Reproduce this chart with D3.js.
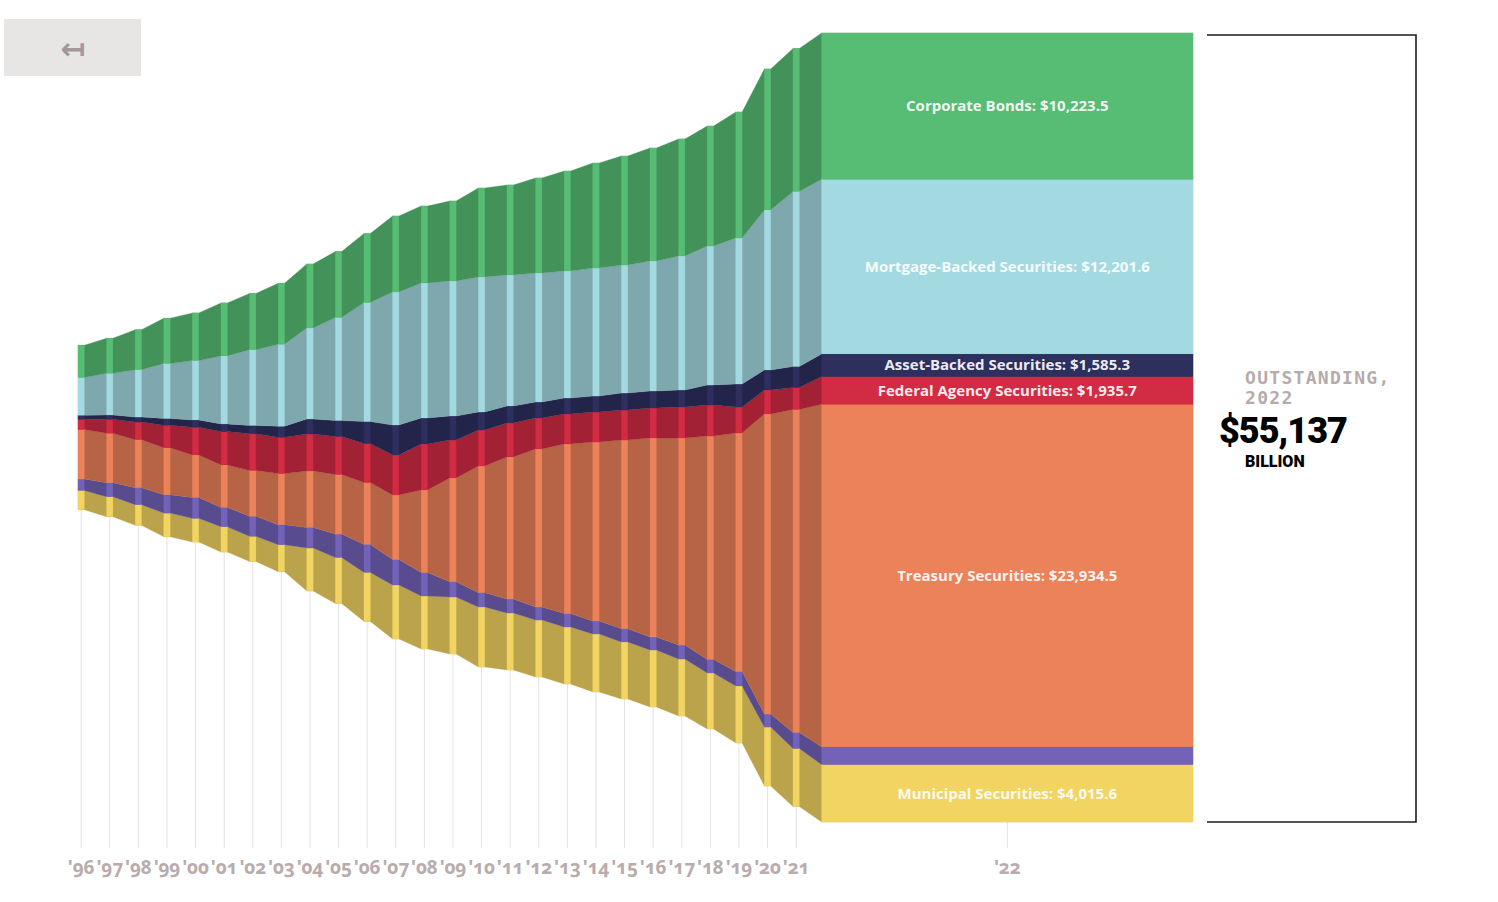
<!DOCTYPE html>
<html>
<head>
<meta charset="utf-8">
<script src="https://cdn.jsdelivr.net/npm/d3@7/dist/d3.min.js"></script>
<style>
  html, body { margin: 0; padding: 0; background: #ffffff; }
  svg { display: block; }
</style>
</head>
<body>
<svg id="chart" width="1498" height="902"></svg>
<script>
// ---------------- DATA (billions of USD) ----------------
const years = [1996,1997,1998,1999,2000,2001,2002,2003,2004,2005,2006,2007,2008,2009,2010,2011,2012,2013,2014,2015,2016,2017,2018,2019,2020,2021,2022];
const yearLabels = ["'96","'97","'98","'99","'00","'01","'02","'03","'04","'05","'06","'07","'08","'09","'10","'11","'12","'13","'14","'15","'16","'17","'18","'19","'20","'21","'22"];

const corporate = [2257,2446,2795,3166,3333,3704,3934,4263,4472,4612,4822,5311,5381,5590,6219,6289,6639,6988,7338,7617,7897,8176,8386,8805,9853,9993,10223.5];
const mortgageBacked = [2634,2914,3312,3843,4144,4752,5290,5730,6359,7198,8316,9294,9434,9434,9434,9154,9015,8875,8945,8945,9085,9364,9713,10203,11181,12229,12201.6];
const assetBacked = [280,300,349,468,510,538,580,769,1048,1118,1537,2096,1817,1677,1258,1188,1118,1118,1118,1188,1188,1188,1398,1607,1398,1467,1585.3];
const federalAgency = [720,978,1230,1586,1936,2327,2565,2537,2586,2655,2725,2795,3215,2655,2516,2376,2166,2096,2096,2096,2096,2166,2166,1817,1677,1537,1935.7];
const treasury = [3459.7,3456.8,3355.5,3281.0,2966.9,2967.5,3204.9,3574.9,3943.6,4165.9,4322.9,4516.7,5774.2,7249.8,8853.0,9928.4,11046.1,11854.4,12504.8,13191.6,13908.2,14468.8,15608.0,16673.3,20973.8,22574.8,23934.5];
const moneyMarkets = [797,978,1188,1279,1467,1356,1398,1400,1440,1635,1957,1775,1635,1070,1000,978,908,936,908,922,908,978,950,1006,908,1118,1240.8];
const municipal = [1349,1398,1447,1656,1656,1768,1768,1887,3005,3215,3424,3774,3704,3983,4193,3983,3983,3983,4053,3983,3983,3983,3913,3983,4123,4053,4015.6];

// series, listed bottom-to-top of the stack
const seriesDefs = [
  {key: "municipal",     name: "Municipal Securities",        values: municipal,      color: "#f1d462", label: true},
  {key: "moneyMarkets",  name: "Money Markets",               values: moneyMarkets,   color: "#7262b8", label: false},
  {key: "treasury",      name: "Treasury Securities",         values: treasury,       color: "#ec8259", label: true},
  {key: "federalAgency", name: "Federal Agency Securities",   values: federalAgency,  color: "#d22b44", label: true},
  {key: "assetBacked",   name: "Asset-Backed Securities",     values: assetBacked,    color: "#2d2f5f", label: true},
  {key: "mortgageBacked",name: "Mortgage-Backed Securities",  values: mortgageBacked, color: "#a3dae1", label: true},
  {key: "corporate",     name: "Corporate Bonds",             values: corporate,      color: "#57bd75", label: true}
];

// ---------------- LAYOUT ----------------
const svg = d3.select("#chart");
const barW = 6.3;
const lastRight = 1193;
const stackTop = 33, stackBottom = 822;

const rows = years.map((yr, i) => {
  const r = {year: yr};
  seriesDefs.forEach(s => r[s.key] = s.values[i]);
  return r;
});
const lastIdx = years.length - 1;
const total = d3.sum(seriesDefs, s => s.values[lastIdx]);

const x = d3.scaleLinear().domain([1996, 2022]).range([78, 821.6]);
const y = d3.scaleLinear().domain([-total / 2, total / 2]).range([stackBottom, stackTop]);

const stacked = d3.stack()
  .keys(seriesDefs.map(s => s.key))
  .offset(d3.stackOffsetSilhouette)(rows);

const barLeft = i => x(years[i]);
const barRight = i => i === lastIdx ? lastRight : x(years[i]) + barW;
const barCenter = i => (barLeft(i) + barRight(i)) / 2;

// tick lines
const bottomLayer = stacked[0];
svg.append("g").selectAll("line")
  .data(years)
  .join("line")
  .attr("x1", (d, i) => barCenter(i))
  .attr("x2", (d, i) => barCenter(i))
  .attr("y1", (d, i) => y(bottomLayer[i][0]))
  .attr("y2", 848)
  .attr("stroke", "#e4e2e2")
  .attr("stroke-width", 1);

// dark connecting areas
const area = d3.area()
  .x(p => p.x)
  .y0(p => y(p.d[0]))
  .y1(p => y(p.d[1]))
  .curve(d3.curveLinear);

const darken = c => {
  const col = d3.rgb(c);
  const f = 0.77;
  return d3.rgb(col.r * f, col.g * f, col.b * f).formatHex();
};

const gAreas = svg.append("g");
stacked.forEach((layer, si) => {
  const pts = [];
  layer.forEach((d, i) => {
    pts.push({x: barLeft(i), d});
    pts.push({x: barRight(i), d});
  });
  gAreas.append("path")
    .attr("d", area(pts))
    .attr("fill", darken(seriesDefs[si].color))
    .attr("stroke", darken(seriesDefs[si].color))
    .attr("stroke-width", 0.3);
});

// bright year bars
const gBars = svg.append("g");
stacked.forEach((layer, si) => {
  gBars.append("g").selectAll("rect")
    .data(layer)
    .join("rect")
    .attr("x", (d, i) => barLeft(i))
    .attr("width", (d, i) => barRight(i) - barLeft(i))
    .attr("y", d => y(d[1]))
    .attr("height", d => y(d[0]) - y(d[1]))
    .attr("fill", seriesDefs[si].color)
    .attr("stroke", seriesDefs[si].color)
    .attr("stroke-width", 0.3);
});

// labels in the 2022 block
const fmt = d3.format(",.1f");
const gLab = svg.append("g")
  .attr("font-family", "'Open Sans', 'Noto Sans', sans-serif")
  .attr("font-weight", 700)
  .attr("font-size", 15)
  .attr("text-anchor", "middle");
stacked.forEach((layer, si) => {
  const s = seriesDefs[si];
  if (!s.label) return;
  const d = layer[lastIdx];
  gLab.append("text")
    .attr("x", barCenter(lastIdx))
    .attr("y", y((d[0] + d[1]) / 2))
    .attr("dy", "0.35em")
    .attr("fill", "#ffffff")
    .attr("fill-opacity", 0.92)
    .text(`${s.name}: $${fmt(s.values[lastIdx])}`);
});

// year axis labels
svg.append("g")
  .attr("font-family", "'Noto Sans', 'DejaVu Sans', sans-serif")
  .attr("font-weight", 700)
  .attr("font-size", 19)
  .attr("fill", "#b8acac")
  .attr("text-anchor", "middle")
  .style("font-variant-numeric", "oldstyle-nums")
  .selectAll("text")
  .data(yearLabels)
  .join("text")
  .attr("x", (d, i) => barCenter(i))
  .attr("y", 874)
  .attr("letter-spacing", -0.2)
  .text(d => d);

// bracket on the right
svg.append("path")
  .attr("d", "M1207,35 H1416 V822 H1207")
  .attr("fill", "none")
  .attr("stroke", "#1c1c1c")
  .attr("stroke-width", 1.6);

// outstanding total
const gTot = svg.append("g");
gTot.append("text")
  .attr("x", 1245).attr("y", 384)
  .attr("font-family", "'DejaVu Sans Mono', monospace")
  .attr("font-weight", 700).attr("font-size", 18)
  .attr("letter-spacing", 1.3)
  .attr("fill", "#b6abab")
  .text("OUTSTANDING,");
gTot.append("text")
  .attr("x", 1245).attr("y", 404)
  .attr("font-family", "'DejaVu Sans Mono', monospace")
  .attr("font-weight", 700).attr("font-size", 18)
  .attr("letter-spacing", 1.3)
  .attr("fill", "#b6abab")
  .text("2022");
gTot.append("text")
  .attr("x", 1219).attr("y", 443)
  .attr("font-family", "Roboto, 'Liberation Sans', sans-serif")
  .attr("font-weight", 900).attr("font-size", 36)
  .attr("letter-spacing", -1)
  .attr("fill", "#000000")
  .text(d3.format("$,.0f")(total));
gTot.append("text")
  .attr("x", 1245).attr("y", 467)
  .attr("font-family", "Roboto, 'Liberation Sans', sans-serif")
  .attr("font-weight", 900).attr("font-size", 16)
  .attr("fill", "#000000")
  .text("BILLION");

// back button
svg.append("rect")
  .attr("x", 4).attr("y", 19).attr("width", 137).attr("height", 57)
  .attr("fill", "#e8e6e5");
svg.append("text")
  .attr("x", 73).attr("y", 48)
  .attr("dy", "0.35em")
  .attr("text-anchor", "middle")
  .attr("font-family", "'DejaVu Sans', sans-serif")
  .attr("font-weight", 700)
  .attr("font-size", 30)
  .attr("fill", "#a59898")
  .text("\u21A4");
</script>
</body>
</html>
